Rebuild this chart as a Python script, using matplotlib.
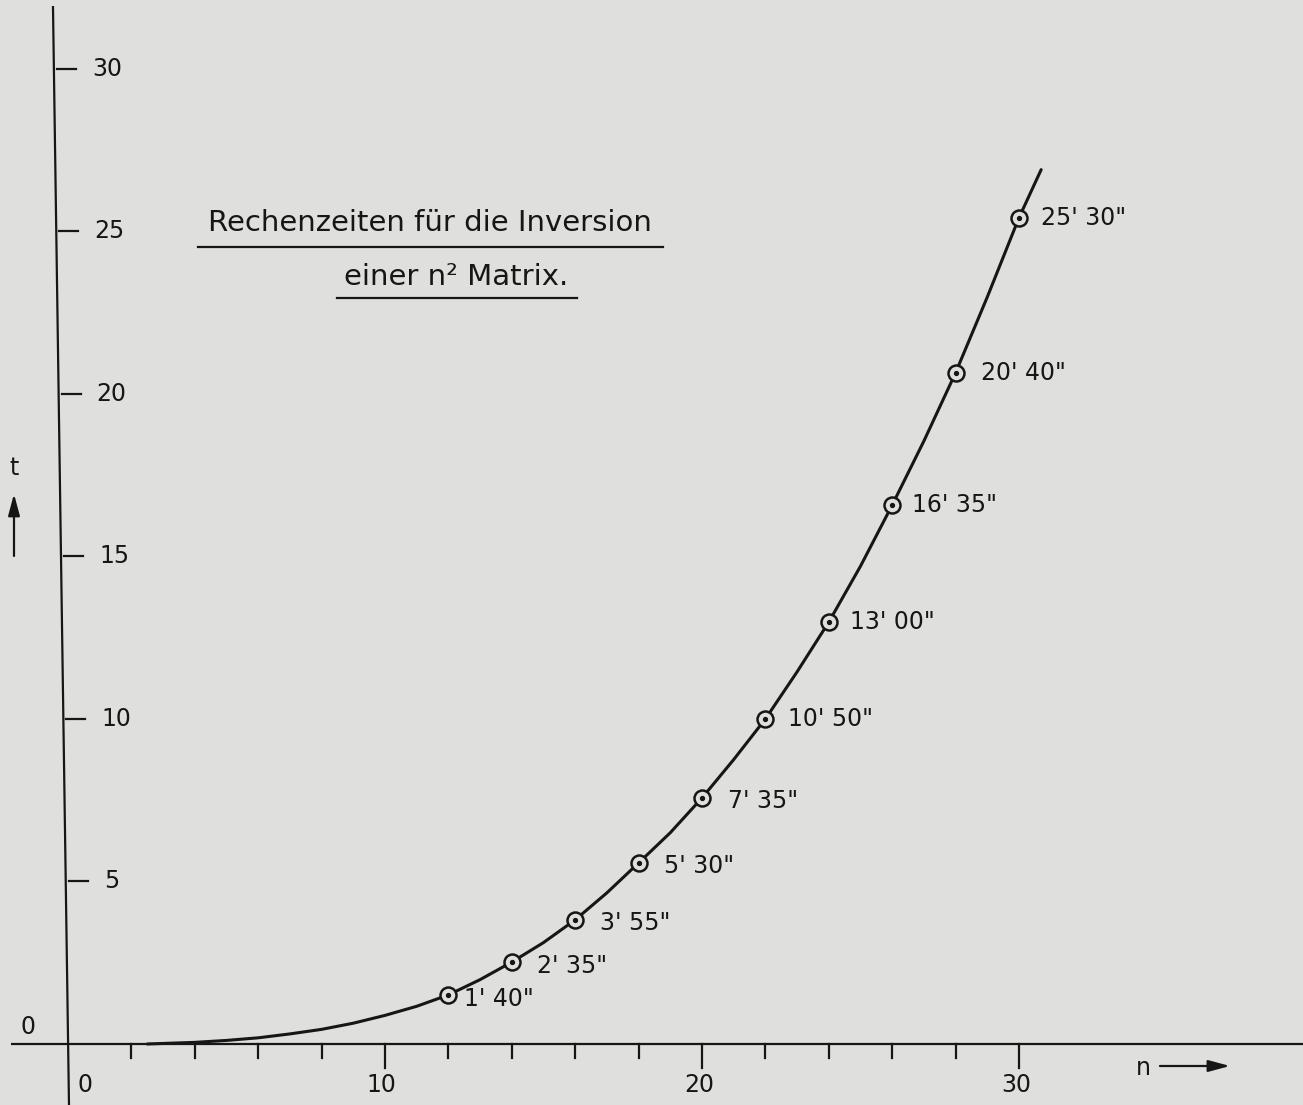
import matplotlib
matplotlib.use("Agg")
import matplotlib.pyplot as plt

# Data ----------------------------------------------------------------------------------------------------------------
n_points = [12, 14, 16, 18, 20, 22, 24, 26, 28, 30]
t_points = [1.51, 2.52, 3.82, 5.57, 7.57, 10.0, 12.98, 16.58, 20.65, 25.42]
point_labels = ["1' 40\"", "2' 35\"", "3' 55\"", "5' 30\"", "7' 35\"",
                "10' 50\"", "13' 00\"", "16' 35\"", "20' 40\"", "25' 30\""]

n_curve = [2.5, 4, 5, 6, 7, 8, 9, 10, 11, 12, 13, 14, 15, 16, 17, 18, 19, 20,
           21, 22, 23, 24, 25, 26, 27, 28, 29, 30, 30.7]
t_curve = [0.0, 0.05, 0.11, 0.19, 0.31, 0.45, 0.64, 0.88, 1.16, 1.51, 1.98, 2.52, 3.12, 3.82, 4.65, 5.57,
           6.5, 7.57, 8.75, 10.0, 11.45, 12.98, 14.7, 16.58, 18.55, 20.65, 22.98, 25.42, 26.9]

x_ticks = [2, 4, 6, 8, 10, 12, 14, 16, 18, 20, 22, 24, 26, 28, 30]
x_ticklabels = ["10", "20", "30"]
y_ticks = [5, 10, 15, 20, 25, 30]

# Style ---------------------------------------------------------------------------------------------------------------
bg = "#dfdfdd"
ink = "#161616"
plt.rcParams['font.family'] = ['DejaVu Sans']

fig = plt.figure(figsize=(13.03, 11.05), dpi=100, facecolor=bg)
ax = fig.add_axes([0, 0, 1, 1])
ax.set_facecolor(bg)
ax.set_xlim(-2.145, 38.96)
ax.set_ylim(-1.877, 32.12)
ax.axis("off")

# px -> data helpers (about 31.7 px per n, 32.5 px per t)
sx = 31.7
sy = 32.5

# axes (the vertical one is slightly tilted in the scan)
ax.plot([-1.8, 38.96], [0, 0], color=ink, lw=1.6, solid_capstyle="butt")
yax_top = (-15 / sx, 31.9)
yax_bot = (1 / sx, -1.877)


def axis_x(t):
    return yax_top[0] + (yax_top[1] - t) * (yax_bot[0] - yax_top[0]) / (yax_top[1] - yax_bot[1])


ax.plot([yax_top[0], yax_bot[0]], [yax_top[1], yax_bot[1]], color=ink, lw=1.6)

# x ticks below the axis
for xt in x_ticks:
    length = 24 if xt % 10 == 0 else 14
    ax.plot([xt, xt], [0, -length / sy], color=ink, lw=1.6)
for i, lab in enumerate(x_ticklabels):
    ax.text(10 * (i + 1) - 0.1, -41 / sy, lab, ha="center", va="center", fontsize=17, color=ink)
ax.text(0.55, -41 / sy, "0", ha="center", va="center", fontsize=17, color=ink)
ax.text(-1.25, 17 / sy, "0", ha="center", va="center", fontsize=17, color=ink)

# y ticks right of the axis
for yt in y_ticks:
    x0 = axis_x(yt)
    ax.plot([x0 + 3 / sx, x0 + 22 / sx], [yt, yt], color=ink, lw=1.6)
    ax.text(x0 + 38 / sx, yt, str(yt), ha="left", va="center", fontsize=17, color=ink)

# axis names with arrows
arrow = dict(arrowstyle="-|>,head_length=1.3,head_width=0.35", color=ink, lw=1.6, shrinkA=0, shrinkB=0)
ax.text((1143 - 68) / sx, -24 / sy, "n", ha="center", va="center", fontsize=17, color=ink)
ax.annotate("", xy=((1230 - 68) / sx, -22 / sy), xytext=((1160 - 68) / sx, -22 / sy), arrowprops=arrow)
ax.text((14 - 68) / sx, (1044 - 468) / sy, "t", ha="center", va="center", fontsize=17, color=ink)
ax.annotate("", xy=((14 - 68) / sx, (1044 - 494) / sy), xytext=((14 - 68) / sx, (1044 - 556) / sy),
            arrowprops=arrow)

# curve and points
ax.plot(n_curve, t_curve, color=ink, lw=2.2, solid_capstyle="round")
ax.plot(n_points, t_points, "o", ms=11.5, mfc=bg, mec=ink, mew=1.8, zorder=5)
ax.plot(n_points, t_points, "o", ms=2.8, color=ink, zorder=6)
offsets = [(11, -3), (18, -3), (18, -2), (18, -2), (19, -2), (16, 0), (15, 0), (14, 0), (18, 0), (16, 0)]
for n, t, lab, off in zip(n_points, t_points, point_labels, offsets):
    ax.annotate(lab, (n, t), xytext=off, textcoords="offset points", ha="left", va="center",
                fontsize=17, color=ink)

# title with underlines
ax.text((430 - 68) / sx, (1044 - 223) / sy, "Rechenzeiten für die Inversion", ha="center", va="center",
        fontsize=21, color=ink)
ax.plot([(198 - 68) / sx, (663 - 68) / sx], [(1044 - 247) / sy] * 2, color=ink, lw=1.6)
ax.text((456 - 68) / sx, (1044 - 277) / sy, "einer n² Matrix.", ha="center", va="center",
        fontsize=21, color=ink)
ax.plot([(337 - 68) / sx, (577 - 68) / sx], [(1044 - 298) / sy] * 2, color=ink, lw=1.6)

fig.savefig("out.png", dpi=100, facecolor=bg)
